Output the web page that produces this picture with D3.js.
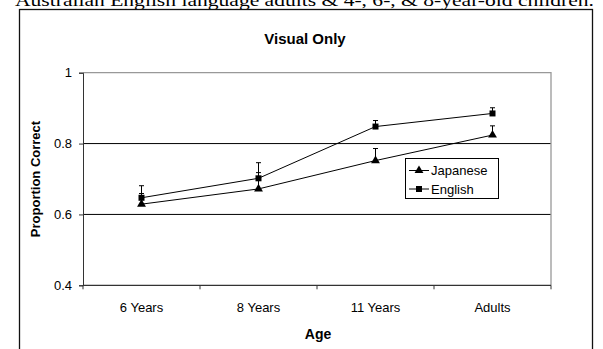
<!DOCTYPE html>
<html>
<head>
    <script src="https://cdnjs.cloudflare.com/ajax/libs/d3/7.8.5/d3.min.js"></script>
    <style>
        body { margin: 0; background: white; }
        svg { display: block; }
    </style>
</head>
<body>
<div id="chart"></div>
<script>
    // Data
    const ages = ["6 Years", "8 Years", "11 Years", "Adults"];
    const japanese = [0.629, 0.672, 0.752, 0.824];
    const japaneseErr = [0.030, 0.046, 0.034, 0.026];
    const english = [0.647, 0.702, 0.848, 0.885];
    const englishErr = [0.034, 0.044, 0.017, 0.016];
    const yTicks = [0.4, 0.6, 0.8, 1];

    const width = 603, height = 349;
    const plot = { left: 83, right: 551, top: 72.7, bottom: 285.3 };
    const sans = "'Liberation Sans', Arial, sans-serif";

    const svg = d3.select("#chart").append("svg")
        .attr("width", width)
        .attr("height", height);

    // caption from the page above, clipped at the top
    svg.append("text")
        .attr("x", 15)
        .attr("y", 6)
        .attr("textLength", 579)
        .attr("lengthAdjust", "spacingAndGlyphs")
        .style("font-family", "'Liberation Serif', 'Times New Roman', serif")
        .style("font-size", "16px")
        .text("Australian English language adults & 4-, 6-, & 8-year-old children.");

    // outer chart frame
    svg.append("rect")
        .attr("x", 19.5).attr("y", 9.5)
        .attr("width", 573).attr("height", 400)
        .attr("fill", "white")
        .attr("stroke", "#111")
        .attr("stroke-width", 1.3);

    const x = d3.scaleBand().domain(ages).range([plot.left, plot.right]);
    const y = d3.scaleLinear().domain([0.4, 1]).range([plot.bottom, plot.top]);

    // gridlines
    svg.append("g").selectAll("line")
        .data(yTicks.filter(d => d > 0.4 && d < 1))
        .join("line")
        .attr("x1", plot.left).attr("x2", plot.right)
        .attr("y1", d => y(d)).attr("y2", d => y(d))
        .attr("stroke", "#000").attr("stroke-width", 1);

    // gray plot border (top, right)
    svg.append("path")
        .attr("d", `M${plot.left},${plot.top}H${plot.right}V${plot.bottom}`)
        .attr("fill", "none")
        .attr("stroke", "#999")
        .attr("stroke-width", 1.3);

    // y axis
    const yAxis = svg.append("g")
        .attr("transform", `translate(${plot.left},0)`)
        .call(d3.axisLeft(y).tickValues(yTicks).tickSize(4).tickPadding(7)
            .tickFormat(d => d === 1 ? "1" : d3.format(".1f")(d)));
    yAxis.select(".domain").attr("stroke", "#333");
    yAxis.selectAll(".tick line").attr("stroke", "#333");
    yAxis.selectAll("text")
        .style("font-family", sans)
        .style("font-size", "13px")
        .attr("fill", "#000");

    // x axis with ticks at category boundaries
    const bounds = ages.map(a => x(a)).concat([plot.right]);
    svg.append("line")
        .attr("x1", plot.left).attr("x2", plot.right)
        .attr("y1", plot.bottom).attr("y2", plot.bottom)
        .attr("stroke", "#333").attr("stroke-width", 1.3);
    svg.append("g").selectAll("line")
        .data(bounds)
        .join("line")
        .attr("x1", d => d).attr("x2", d => d)
        .attr("y1", plot.bottom).attr("y2", plot.bottom + 4)
        .attr("stroke", "#333");
    svg.append("g").selectAll("text")
        .data(ages)
        .join("text")
        .attr("x", d => x(d) + x.bandwidth() / 2)
        .attr("y", 312)
        .attr("text-anchor", "middle")
        .style("font-family", sans)
        .style("font-size", "13px")
        .text(d => d);

    // titles
    svg.append("text")
        .attr("x", 305).attr("y", 44)
        .attr("text-anchor", "middle")
        .style("font-family", sans)
        .style("font-size", "15px")
        .style("font-weight", "bold")
        .text("Visual Only");
    svg.append("text")
        .attr("x", 318).attr("y", 339)
        .attr("text-anchor", "middle")
        .style("font-family", sans)
        .style("font-size", "14px")
        .style("font-weight", "bold")
        .text("Age");
    svg.append("text")
        .attr("transform", "translate(40,179) rotate(-90)")
        .attr("text-anchor", "middle")
        .style("font-family", sans)
        .style("font-size", "13px")
        .style("font-weight", "bold")
        .text("Proportion Correct");

    const cx = d => x(d) + x.bandwidth() / 2;
    const series = [
        { name: "Japanese", values: japanese, err: japaneseErr, symbol: d3.symbolTriangle, size: 34 },
        { name: "English", values: english, err: englishErr, symbol: d3.symbolSquare, size: 36 }
    ];

    const line = d3.line().x((d, i) => cx(ages[i])).y(d => y(d));

    series.forEach(s => {
        const g = svg.append("g");
        // error bars (plus only)
        s.values.forEach((v, i) => {
            const px = cx(ages[i]);
            g.append("line")
                .attr("x1", px).attr("x2", px)
                .attr("y1", y(v)).attr("y2", y(v + s.err[i]))
                .attr("stroke", "#000");
            g.append("line")
                .attr("x1", px - 2.5).attr("x2", px + 2.5)
                .attr("y1", y(v + s.err[i])).attr("y2", y(v + s.err[i]))
                .attr("stroke", "#000");
        });
        g.append("path")
            .attr("d", line(s.values))
            .attr("fill", "none")
            .attr("stroke", "#000")
            .attr("stroke-width", 1);
        g.selectAll(".pt")
            .data(s.values)
            .join("path")
            .attr("transform", (d, i) => `translate(${cx(ages[i])},${y(d)})`)
            .attr("d", d3.symbol().type(s.symbol).size(s.size))
            .attr("fill", "#000");
    });

    // legend
    const legend = svg.append("g").attr("transform", "translate(405,158)");
    legend.append("rect")
        .attr("x", 0.5).attr("y", 0.5)
        .attr("width", 93).attr("height", 40)
        .attr("fill", "white")
        .attr("stroke", "#000");
    series.forEach((s, i) => {
        const ly = 12.5 + i * 18.5;
        legend.append("line")
            .attr("x1", 4).attr("x2", 24)
            .attr("y1", ly).attr("y2", ly)
            .attr("stroke", "#000");
        legend.append("path")
            .attr("transform", `translate(14,${ly})`)
            .attr("d", d3.symbol().type(s.symbol).size(s.size))
            .attr("fill", "#000");
        legend.append("text")
            .attr("x", 26).attr("y", ly + 4.5)
            .style("font-family", sans)
            .style("font-size", "13px")
            .text(s.name);
    });
</script>
</body>
</html>
